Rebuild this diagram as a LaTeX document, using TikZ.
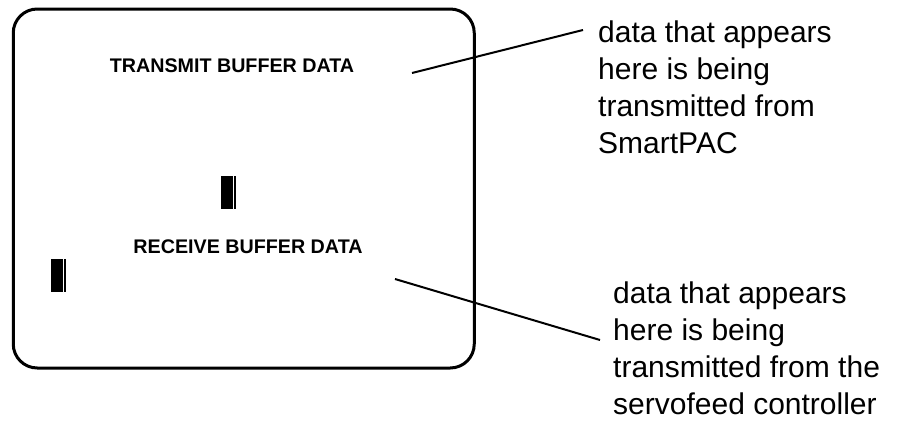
\documentclass[tikz,border=0pt]{standalone}
\usepackage{fontspec}
\setmainfont{Liberation Sans}
\begin{document}
\begin{tikzpicture}[x=1pt,y=-1pt,
  screen/.style={draw, line width=3pt, rounded corners=24pt, minimum width=461pt, minimum height=359pt, inner sep=0pt},
  heading/.style={font=\bfseries\fontsize{19.7}{23}\selectfont, inner sep=0pt},
  cursor/.style={fill=black, minimum width=15pt, minimum height=33pt, inner sep=0pt,
    path picture={\draw[white, line width=1pt] ([xshift=-3pt]path picture bounding box.north east) -- ([xshift=-3pt]path picture bounding box.south east);}},
  callout/.style={font=\fontsize{30}{37}\selectfont, align=left, inner sep=0pt, anchor=north west},
  leader/.style={line width=2pt}]
\useasboundingbox (0,0) rectangle (901,423);
\node[screen] (screen) at (243.75,188.5) {};
\node[heading] (txhead) at (232,66) {TRANSMIT BUFFER DATA};
\node[heading] (rxhead) at (248,247) {RECEIVE BUFFER DATA};
\node[cursor] (txcursor) at (228.5,192.5) {};
\node[cursor] (rxcursor) at (58.5,275) {};
% callouts
\node[callout] (txnote) at (598,21) {data that appears\\here is being\\transmitted from\\SmartPAC};
\node[callout] (rxnote) at (613,282) {data that appears\\here is being\\transmitted from the\\servofeed controller};
\coordinate (txpoint) at (412,73);
\coordinate (rxpoint) at (395,279);
\draw[leader] (txpoint) -- (583,30);
\draw[leader] (rxpoint) -- (600,340);
\end{tikzpicture}
\end{document}
